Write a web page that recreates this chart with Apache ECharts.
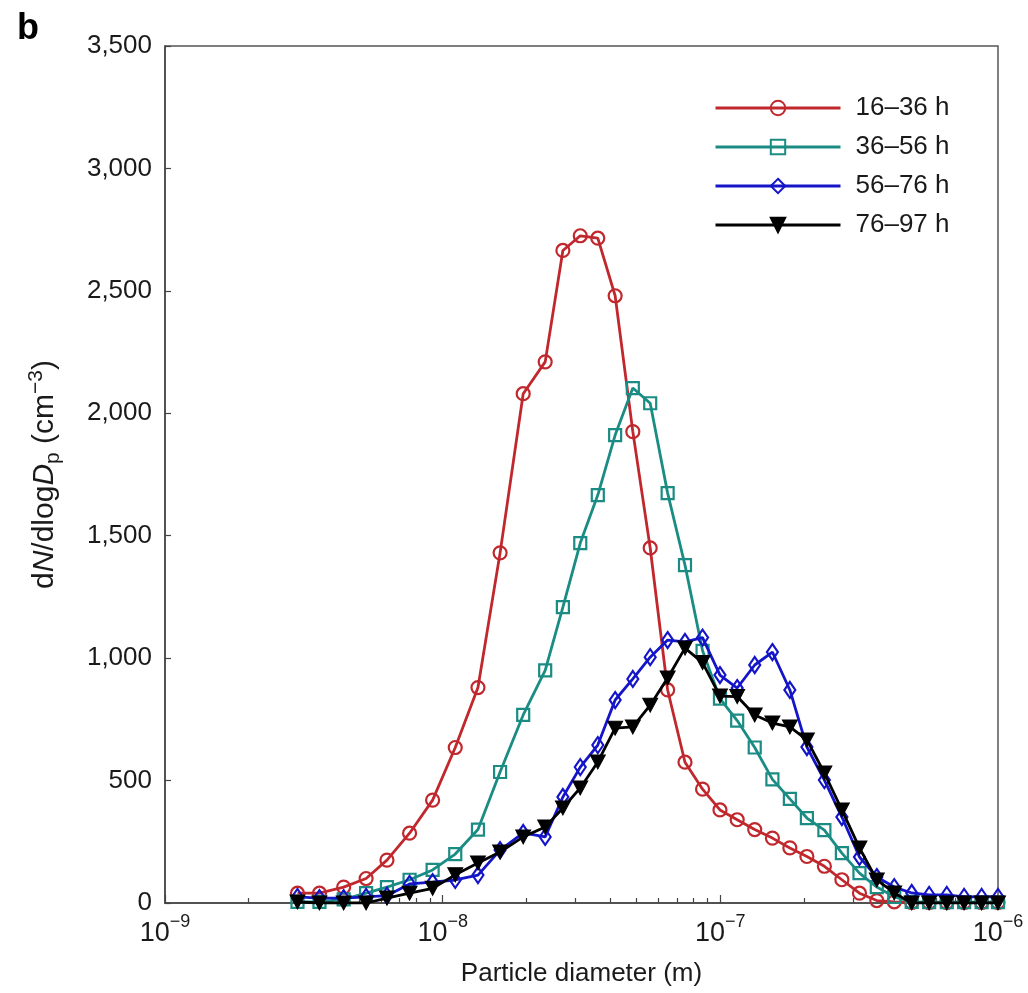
<!DOCTYPE html>
<html><head><meta charset="utf-8">
<script src="https://cdn.jsdelivr.net/npm/echarts@6/dist/echarts.min.js"></script>
<style>html,body{margin:0;padding:0;background:#fff}#c{width:1028px;height:993px}</style>
</head><body><div id="c"></div>
<script>
// Particle diameters (m)
const diameters = [3.0e-9, 3.6e-9, 4.4e-9, 5.3e-9, 6.3e-9, 7.6e-9, 9.2e-9, 1.11e-8, 1.34e-8, 1.61e-8,
  1.95e-8, 2.34e-8, 2.71e-8, 3.13e-8, 3.62e-8, 4.18e-8, 4.84e-8, 5.59e-8, 6.46e-8, 7.46e-8,
  8.63e-8, 9.97e-8, 1.15e-7, 1.33e-7, 1.54e-7, 1.78e-7, 2.05e-7, 2.37e-7, 2.74e-7, 3.17e-7,
  3.66e-7, 4.23e-7, 4.89e-7, 5.65e-7, 6.54e-7, 7.55e-7, 8.73e-7, 1.0e-6];
const seriesNames = ['16–36 h', '36–56 h', '56–76 h', '76–97 h'];
const s16_36 = [40, 40, 65, 100, 175, 285, 420, 635, 880, 1430, 2080, 2210, 2665, 2725, 2715, 2480, 1925, 1450, 870, 575,
  465, 380, 340, 300, 265, 225, 190, 150, 95, 40, 10, 5, 2, 2, 2, 2, 2, 2];
const s36_56 = [5, 5, 15, 40, 65, 95, 135, 200, 300, 535, 768, 950, 1208, 1470, 1666, 1911, 2103, 2041, 1674, 1380,
  1030, 835, 745, 635, 505, 425, 347, 298, 204, 122, 65, 25, 5, 3, 3, 3, 3, 3];
const s56_76 = [25, 20, 20, 25, 30, 78, 85, 94, 114, 216, 286, 270, 433, 555, 645, 829, 915, 1004, 1074, 1066,
  1084, 931, 878, 972, 1025, 870, 637, 502, 351, 188, 106, 65, 41, 33, 33, 25, 25, 25];
const s76_97 = [4, 0, 0, 0, 20, 40, 60, 115, 163, 208, 270, 310, 388, 470, 576, 714, 719, 808, 919, 1041,
  982, 845, 843, 768, 735, 719, 666, 531, 380, 225, 94, 41, 0, 0, 0, 0, 0, 0];
const yMin = 0, yMax = 3500, yStep = 500;
const xMinExp = -9, xMaxExp = -6;
const minorMultipliers = [2, 3, 4, 5, 6, 7, 8, 9];

const FONT = '"Liberation Sans", Arial, Helvetica, sans-serif';
const TXT = '#1a1a1a';
const colors = ['#c0282d', '#1a8c84', '#1414c8', '#000000'];
const symbols = ['circle', 'rect', 'diamond', 'triangle'];
const symSizes = [13, 12, [11, 16], [15, 14]];
const allSeries = [s16_36, s36_56, s56_76, s76_97];

const minorExps = [];
for (let e = xMinExp; e < xMaxExp; e++) minorMultipliers.forEach(m => minorExps.push(e + Math.log10(m)));

const chart = echarts.init(document.getElementById('c'), null, {renderer: 'canvas'});
const series = allSeries.map((vals, i) => ({
  name: seriesNames[i],
  type: 'line',
  xAxisIndex: 0, yAxisIndex: 0,
  data: diameters.map((d, k) => [d, vals[k]]),
  symbol: symbols[i],
  symbolSize: symSizes[i],
  symbolRotate: i === 3 ? 180 : 0,
  showAllSymbol: true,
  lineStyle: {color: colors[i], width: 2.8},
  itemStyle: i === 3 ? {color: '#000', borderColor: '#000', borderWidth: 1}
                     : {color: 'rgba(255,255,255,0)', borderColor: colors[i], borderWidth: 2.2},
  color: colors[i],
  z: 2 + i
}));

chart.setOption({
  animation: false,
  backgroundColor: '#fff',
  title: {text: 'b', left: 12, top: 6, textStyle: {fontFamily: FONT, fontSize: 36, fontWeight: 'bold', color: '#000'}},
  legend: {
    orient: 'vertical', left: 709, top: 90, itemWidth: 125, itemHeight: 18, itemGap: 13,
    data: seriesNames,
    lineStyle: {width: 3},
    textStyle: {fontFamily: FONT, fontSize: 26, lineHeight: 26, color: TXT, padding: [0, 0, 0, 10]}
  },
  grid: [
    {left: 165, right: 30, top: 46, bottom: 90, show: true, borderColor: '#555', borderWidth: 1.5, outerBoundsMode: 'none'},
    {left: 165, right: 30, top: 46, bottom: 90, show: false, outerBoundsMode: 'none'}
  ],
  xAxis: [
    {
      type: 'log', logBase: 10, gridIndex: 0, min: Math.pow(10, xMinExp), max: Math.pow(10, xMaxExp),
      name: 'Particle diameter (m)', nameLocation: 'middle', nameGap: 58,
      nameTextStyle: {fontFamily: FONT, fontSize: 26, color: TXT},
      axisLine: {lineStyle: {color: '#444', width: 1.5}},
      axisTick: {inside: true, length: 8, lineStyle: {color: '#444', width: 1.2}},
      splitLine: {show: false},
      axisLabel: {
        margin: 10, fontFamily: FONT, color: TXT,
        formatter: v => '{b|10}{s|−' + (-Math.round(Math.log10(v))) + '}',
        rich: {
          b: {fontFamily: FONT, fontSize: 27, color: TXT, verticalAlign: 'bottom', lineHeight: 34},
          s: {fontFamily: FONT, fontSize: 18, color: TXT, verticalAlign: 'top', lineHeight: 18}
        }
      }
    },
    {
      type: 'value', gridIndex: 1, min: xMinExp, max: xMaxExp,
      axisLine: {show: false}, axisLabel: {show: false}, splitLine: {show: false},
      axisTick: {show: true, inside: true, length: 5, customValues: minorExps, lineStyle: {color: '#444', width: 1.2}}
    }
  ],
  yAxis: [
    {
      type: 'value', gridIndex: 0, min: yMin, max: yMax, interval: yStep,
      name: '{n|d}{i|N}{n|/dlog}{i|D}{sub|p}{n| (cm}{sup|−3}{n|)}',
      nameLocation: 'middle', nameGap: 101,
      nameTextStyle: {
        fontFamily: FONT, fontSize: 30, color: TXT,
        rich: {
          n: {fontFamily: FONT, fontSize: 30, color: TXT, lineHeight: 38, verticalAlign: 'middle'},
          i: {fontFamily: FONT, fontSize: 30, color: TXT, fontStyle: 'italic', lineHeight: 38, verticalAlign: 'middle'},
          sub: {fontFamily: FONT, fontSize: 21, color: TXT, verticalAlign: 'bottom', lineHeight: 21},
          sup: {fontFamily: FONT, fontSize: 21, color: TXT, verticalAlign: 'top', lineHeight: 21}
        }
      },
      axisLine: {show: true, lineStyle: {color: '#444', width: 1.5}},
      axisTick: {show: true, inside: true, length: 6, lineStyle: {color: '#444', width: 1.2}},
      splitLine: {show: false},
      axisLabel: {margin: 13, fontFamily: FONT, fontSize: 26, color: TXT,
        formatter: v => v.toLocaleString('en-US')}
    },
    {type: 'value', gridIndex: 1, show: false, min: 0, max: 1}
  ],
  series: series
});
</script>
</body></html>
